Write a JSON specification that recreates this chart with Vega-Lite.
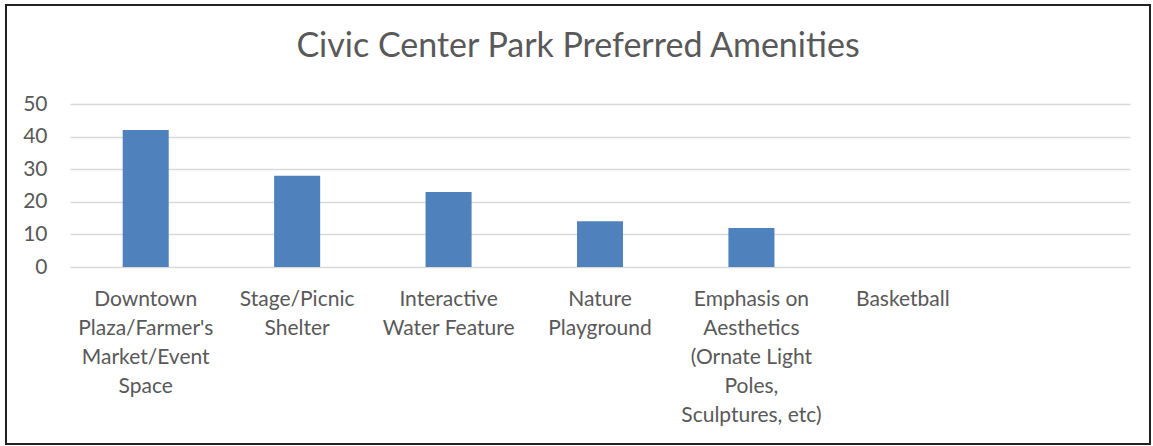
{
  "$schema": "https://vega.github.io/schema/vega-lite/v6.json",
  "width": 1144,
  "height": 439,
  "autosize": {"type": "none"},
  "padding": {"left": 6, "top": 5, "right": 3, "bottom": 2},
  "background": "white",
  "title": {
    "text": "Civic Center Park Preferred Amenities",
    "font": "Lato",
    "fontSize": 34,
    "fontWeight": "normal",
    "color": "#595959",
    "anchor": "middle",
    "frame": "group",
    "offset": -86,
    "baseline": "alphabetic"
  },
  "data": {
    "values": [
      {"amenity": "Downtown\nPlaza/Farmer's\nMarket/Event\nSpace", "count": 42},
      {"amenity": "Stage/Picnic\nShelter", "count": 28},
      {"amenity": "Interactive\nWater Feature", "count": 23},
      {"amenity": "Nature\nPlayground", "count": 14},
      {"amenity": "Emphasis on\nAesthetics\n(Ornate Light\nPoles,\nSculptures, etc)", "count": 12},
      {"amenity": "Basketball", "count": 0}
    ]
  },
  "mark": {"type": "bar", "color": "#4F81BD"},
  "encoding": {
    "x": {
      "field": "amenity",
      "type": "nominal",
      "sort": null,
      "scale": {
        "domain": [
          "Downtown\nPlaza/Farmer's\nMarket/Event\nSpace",
          "Stage/Picnic\nShelter",
          "Interactive\nWater Feature",
          "Nature\nPlayground",
          "Emphasis on\nAesthetics\n(Ornate Light\nPoles,\nSculptures, etc)",
          "Basketball",
          " "
        ],
        "range": [64, 1124],
        "paddingInner": 0.696,
        "paddingOuter": 0.348
      },
      "axis": {
        "title": null,
        "labelAngle": 0,
        "labelExpr": "split(datum.value, '\\n')",
        "offset": -177,
        "domain": false,
        "ticks": false,
        "grid": false,
        "labelPadding": 21,
        "labelFont": "Lato",
        "labelFontSize": 21,
        "labelColor": "#595959",
        "labelLineHeight": 29,
        "labelBaseline": "top",
        "labelAlign": "center",
        "labelLimit": 0,
        "labelOverlap": false,
        "labelBound": false,
        "labelFlush": false
      }
    },
    "y": {
      "field": "count",
      "type": "quantitative",
      "scale": {"domain": [0, 50], "range": [262, 99], "nice": false, "zero": true},
      "axis": {
        "title": null,
        "values": [0, 10, 20, 30, 40, 50],
        "grid": true,
        "gridColor": "#D9D9D9",
        "gridWidth": 1.3,
        "domain": false,
        "ticks": false,
        "offset": -64,
        "labelPadding": 23,
        "labelFont": "Lato",
        "labelFontSize": 21,
        "labelColor": "#595959",
        "labelBaseline": "middle"
      }
    }
  },
  "config": {
    "view": {"stroke": "#222222", "strokeWidth": 2}
  }
}
